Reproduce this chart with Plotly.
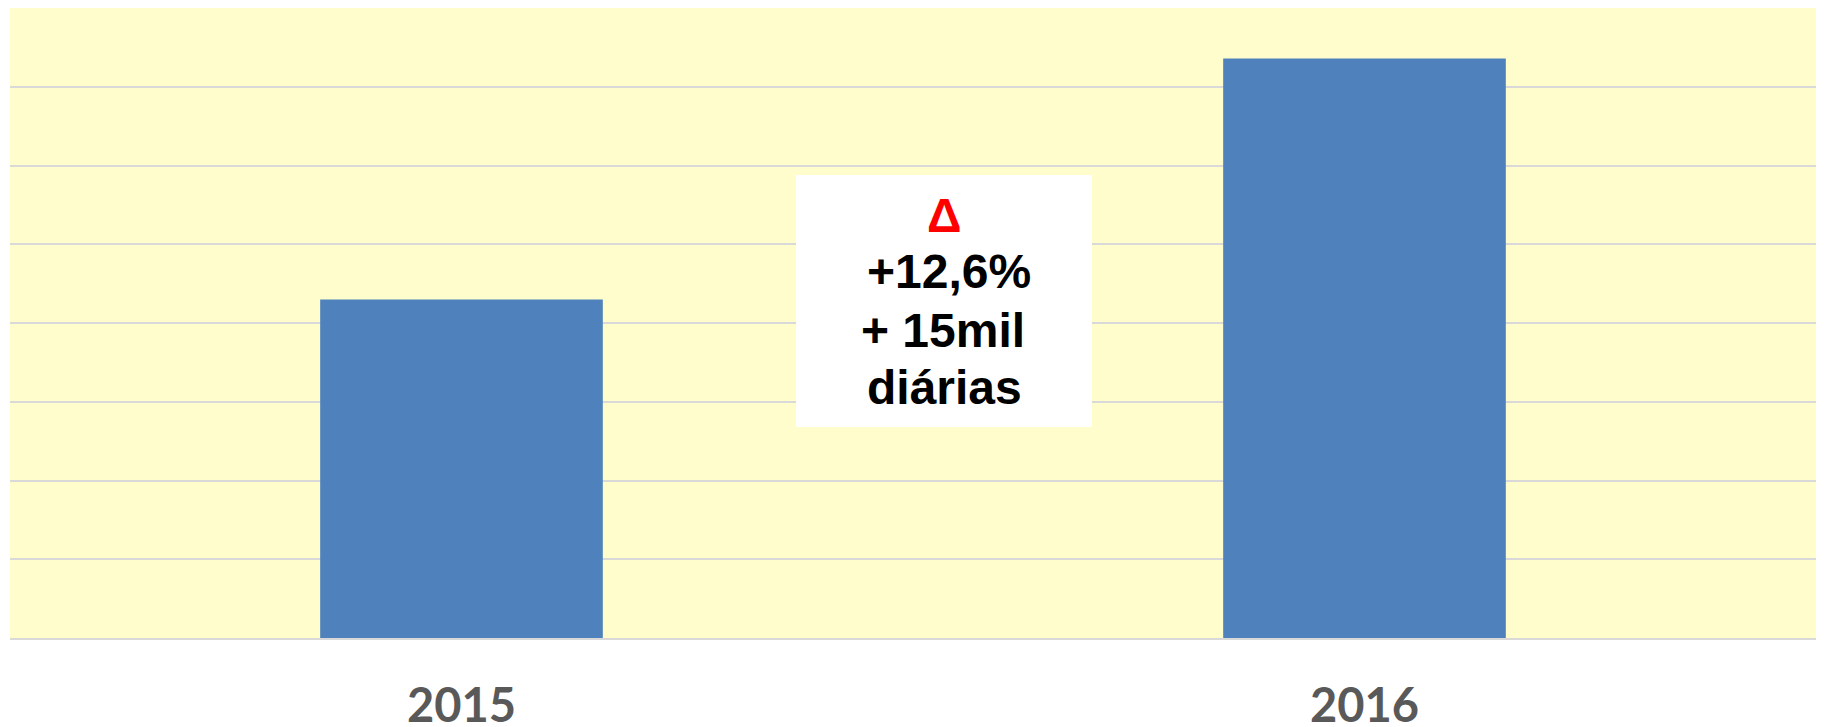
import plotly.graph_objects as go

years = ["2015", "2016"]
diarias = [121500, 136800]
box_lines = ["Δ", "+12,6%", "+ 15mil", "diárias"]
box_colors = ["#FF0000", "#000000", "#000000", "#000000"]

# the page body has an 8px margin; the figure is sized to sit inside it
OFF = 8
W, H = 1824 - OFF, 727 - OFF
ml, mr, mt, mb = 10 - OFF, 8, 8 - OFF, 89
pw, ph = W - ml - mr, H - mt - mb

def px_x(x):
    return (x - OFF - ml) / pw

def px_y(y):
    return (H - mb - (y - OFF)) / ph

fig = go.Figure()
fig.add_trace(go.Bar(x=years, y=diarias, marker=dict(color="#4F81BD", line=dict(width=0)),
                     width=0.313))

fig.add_shape(type="rect", xref="paper", yref="paper",
              x0=px_x(796), x1=px_x(1092), y0=px_y(427), y1=px_y(175),
              fillcolor="white", line=dict(width=0), layer="above")

centers_y = [215, 272, 330, 387]
centers_x = [944, 949, 943, 945]
for txt, col, cy, cx in zip(box_lines, box_colors, centers_y, centers_x):
    fig.add_annotation(text=f"<b>{txt}</b>", xref="paper", yref="paper",
                       x=px_x(cx), y=px_y(cy), xanchor="center", yanchor="middle",
                       showarrow=False,
                       font=dict(family="Liberation Sans, Arial, sans-serif", size=48, color=col))

fig.update_layout(
    width=W, height=H,
    margin=dict(l=ml, r=mr, t=mt, b=mb, autoexpand=False),
    paper_bgcolor="white",
    plot_bgcolor="#FFFDCB",
    showlegend=False,
    bargap=0.687,
    xaxis=dict(showgrid=False, showline=True, linecolor="#D9D9D9", linewidth=2,
               ticks="", ticklabelstandoff=26, automargin=False,
               tickfont=dict(family="Lato, sans-serif", size=47, color="#595959", weight="bold")),
    yaxis=dict(range=[100000, 140000], dtick=5000, showticklabels=False, automargin=False,
               showgrid=True, gridcolor="#D9D9D9", gridwidth=2, zeroline=False,
               showline=False),
)

fig.write_html("out.html")
